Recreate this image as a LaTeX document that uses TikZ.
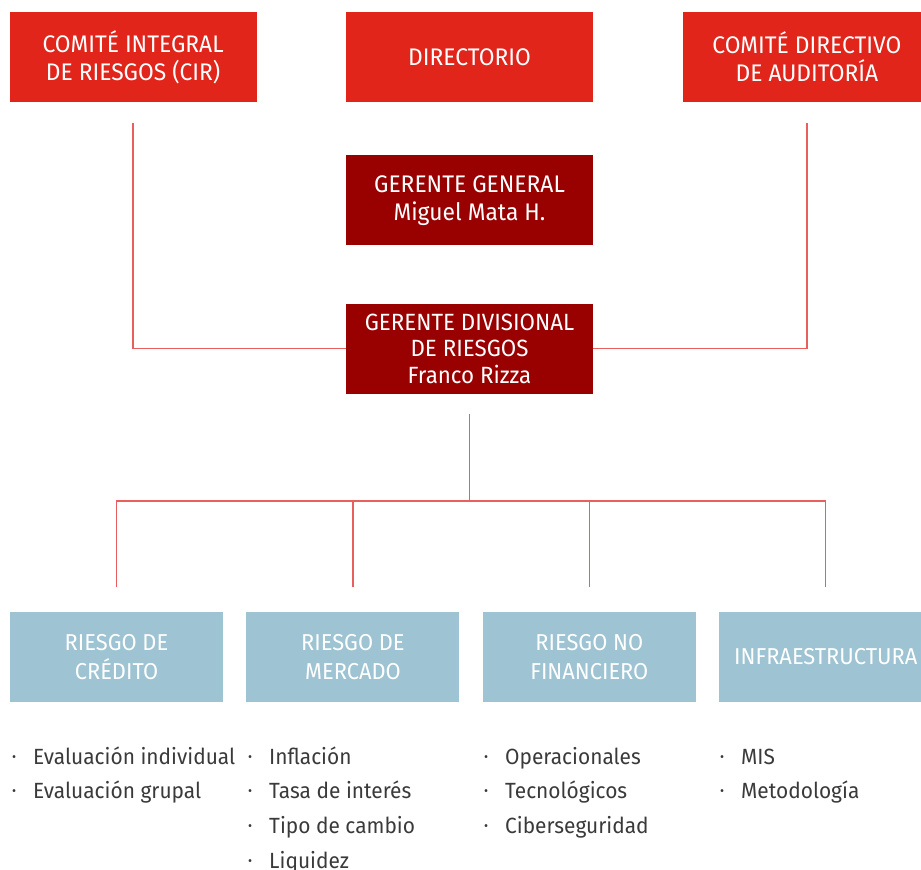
\documentclass[tikz,border=0pt]{standalone}
\usepackage{fontspec}
\setmainfont{Fira Sans}[FakeStretch=0.95]
\usepackage{xcolor}
\usepackage{tikz}
\usetikzlibrary{calc,positioning}
\definecolor{topred}{HTML}{E1251B}
\definecolor{darkred}{HTML}{990000}
\definecolor{area}{HTML}{9EC3D3}
\definecolor{wire}{HTML}{E8605E}
\definecolor{ink}{HTML}{3A3A3A}
\tikzset{
  box/.style={minimum width=247pt, minimum height=90pt, inner sep=0pt, text=white, align=center, font=\fontsize{24}{28}\selectfont},
  top/.style={box, fill=topred},
  mgr/.style={box, fill=darkred},
  risk/.style={box, fill=area, minimum width=213pt, font=\fontsize{23}{29}\selectfont},
  link/.style={draw=wire, line width=1.3pt},
  item/.style={anchor=base west, inner sep=0pt, text=ink, font=\fontsize{22}{25}\selectfont},
}
\newcommand{\itm}[1]{\makebox[21pt][l]{\raisebox{0.25ex}{\fontsize{13}{13}\selectfont\textbullet}}#1}

\begin{document}
\begin{tikzpicture}[x=1pt, y=-1pt]
\useasboundingbox (0,0) rectangle (921,870);
\clip (0,0) rectangle (921,870);

% committees and management
\node[top] (dir) at (469.5,57) {DIRECTORIO};
\node[top, left=89pt of dir] (cir) {COMITÉ INTEGRAL\\DE RIESGOS (CIR)};
\node[top, right=90pt of dir] (cda) {COMITÉ DIRECTIVO\\DE AUDITORÍA};
\node[mgr, below=53pt of dir] (gg) {GERENTE GENERAL\\Miguel Mata H.};
\node[mgr, below=58pt of gg, font=\fontsize{23.5}{26.5}\selectfont] (gdiv) {GERENTE DIVISIONAL\\DE RIESGOS\\Franco Rizza};

\draw[link] ([yshift=-21pt]cir.south) |- (gdiv.west);
\draw[link] ([yshift=-21pt]cda.south) |- (gdiv.east);

% risk areas
\node[risk] (cred) at (116.5,657) {RIESGO DE\\CRÉDITO};
\node[risk, right=23pt of cred] (merc) {RIESGO DE\\MERCADO};
\node[risk, right=23pt of merc] (nofin) {RIESGO NO\\FINANCIERO};
\node[risk, right=23pt of nofin] (infra) {INFRAESTRUCTURA};

\coordinate (bus) at ($(gdiv.south)+(0,107)$);
\draw[link] ([yshift=-20pt]gdiv.south) -- (bus);
\draw[link] ([yshift=25pt]cred.north) |- (bus) -| ([yshift=25pt]infra.north);
\draw[link] ([yshift=25pt]merc.north) -- (merc.north |- bus);
\draw[link] ([yshift=25pt]nofin.north) -- (nofin.north |- bus);

% lists under each area
\foreach \t [count=\i] in {Evaluación individual, Evaluación grupal}
  \node[item] (cred-\i) at (12, 764+34.7*\i-34.7) {\itm{\t}};
\foreach \t [count=\i] in {Inflación, Tasa de interés, Tipo de cambio, Liquidez}
  \node[item] (merc-\i) at (248, 764+34.7*\i-34.7) {\itm{\t}};
\foreach \t [count=\i] in {Operacionales, Tecnológicos, Ciberseguridad}
  \node[item] (nofin-\i) at (484, 764+34.7*\i-34.7) {\itm{\t}};
\foreach \t [count=\i] in {MIS, Metodología}
  \node[item] (infra-\i) at (720, 764+34.7*\i-34.7) {\itm{\t}};
\end{tikzpicture}
\end{document}
